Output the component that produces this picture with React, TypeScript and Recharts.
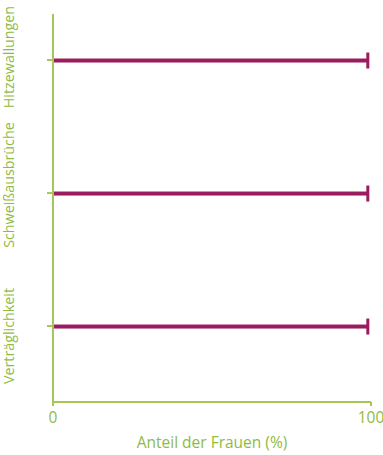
import React from "react";
import { BarChart, Bar, XAxis, YAxis } from "recharts";

const categories = ["Hitzewallungen", "Schweißausbrüche", "Verträglichkeit"];
const positions = [1, 2, 3];
const values = [99, 99, 99];
const xTicks = [0, 100];

const data = categories.map((name, i) => ({ name, pos: positions[i], value: values[i] }));

const GREEN = "#a4c853";
const TEXT = "#8fbb3f";
const PURPLE = "#9b1b5f";
const FONT = "'Open Sans', sans-serif";
const FS = 15.5;
const CAT_FS = 14.3;

const labelShift = [-3, -8, 10];

const CapBar = (props: any) => {
  const { x, y, width, height } = props;
  const cy = y + height / 2;
  return (
    <g>
      <rect x={x} y={y} width={Math.max(0, width)} height={height} fill={PURPLE} />
      <rect x={x + width - 1.5} y={cy - 8} width={3} height={16} fill={PURPLE} />
    </g>
  );
};

const YTick = (props: any) => {
  const { y, payload } = props;
  const i = positions.indexOf(payload.value);
  const label = i >= 0 ? categories[i] : "";
  const cy = y + (labelShift[i] ?? 0);
  return (
    <text
      x={14.5}
      y={cy}
      transform={`rotate(-90, 14.5, ${cy})`}
      textAnchor="middle"
      fill={TEXT}
      fontSize={CAT_FS}
      fontFamily={FONT}
    >
      {label}
    </text>
  );
};

export default function App() {
  return (
    <div style={{ position: "absolute", left: 0, top: 0 }}>
      <BarChart
        width={383}
        height={455}
        data={data}
        layout="vertical"
        margin={{ top: 14, right: 12, bottom: 0, left: 0 }}
      >
        <XAxis
          type="number"
          dataKey="value"
          domain={[0, 100]}
          ticks={xTicks}
          allowDataOverflow
          height={53}
          tickSize={4}
          tickMargin={6}
          axisLine={{ stroke: GREEN, strokeWidth: 2 }}
          tickLine={{ stroke: GREEN, strokeWidth: 2 }}
          tick={{ fill: TEXT, fontSize: FS, fontFamily: FONT }}
          label={{
            value: "Anteil der Frauen (%)",
            position: "insideBottom",
            offset: 7,
            fill: TEXT,
            fontSize: FS,
            fontFamily: FONT,
          }}
        />
        <YAxis
          type="number"
          dataKey="pos"
          domain={[0.654, 3.571]}
          ticks={positions}
          allowDataOverflow
          width={53}
          tickSize={6}
          axisLine={{ stroke: GREEN, strokeWidth: 2 }}
          tickLine={{ stroke: GREEN, strokeWidth: 2 }}
          tick={<YTick />}
        />
        <Bar dataKey="value" barSize={4} shape={<CapBar />} isAnimationActive={false} />
      </BarChart>
    </div>
  );
}
